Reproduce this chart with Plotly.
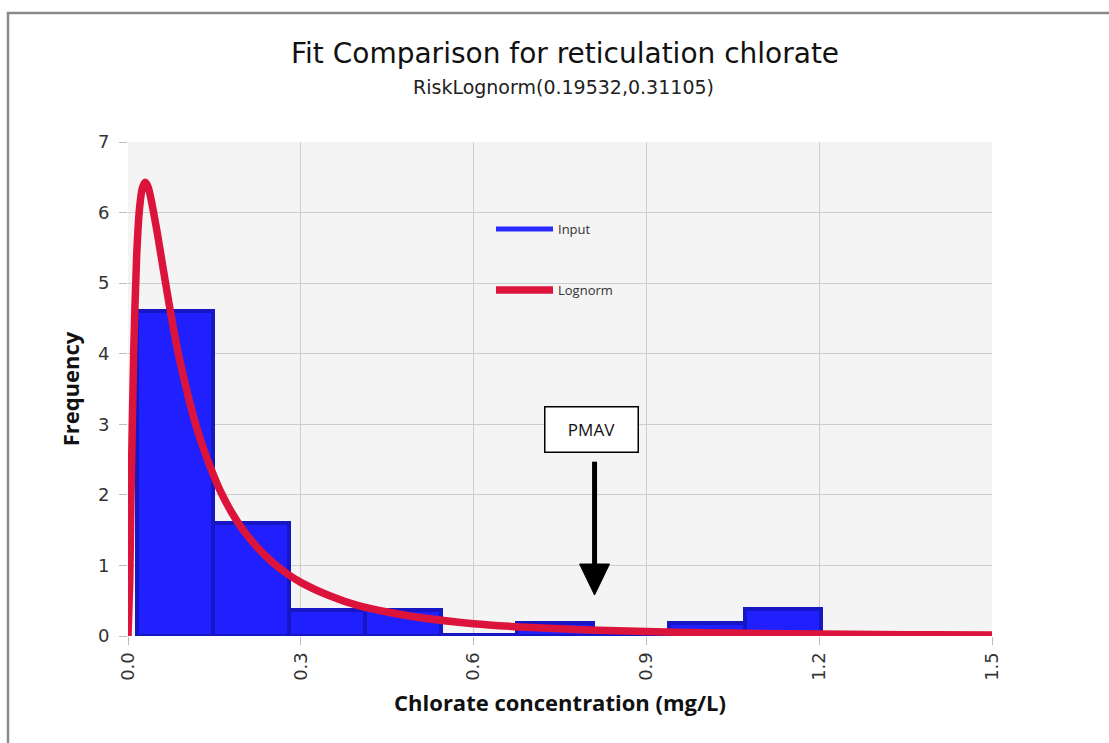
import plotly.graph_objects as go

# ---- data ----
bin_left = [0.0156, 0.1476, 0.2796, 0.4116, 0.5436, 0.6756, 0.8076, 0.9396, 1.0716]
bin_width = 0.132
input_freq = [4.60, 1.60, 0.37, 0.37, 0.02, 0.19, 0.00, 0.19, 0.38]

curve_x = [0.0, 0.003, 0.005, 0.01, 0.015, 0.02, 0.025, 0.03, 0.035, 0.04, 0.05, 0.06, 0.07,
           0.085, 0.1, 0.115, 0.13, 0.145, 0.16, 0.18, 0.2, 0.225, 0.25, 0.275, 0.3, 0.35,
           0.4, 0.45, 0.5, 0.6, 0.7, 0.8, 0.9, 1.0, 1.1, 1.2, 1.3, 1.4, 1.5]
curve_y = [0.0, 0.75, 1.86, 4.06, 5.38, 6.06, 6.35, 6.43, 6.36, 6.19, 5.75, 5.26, 4.77,
           4.10, 3.55, 3.07, 2.68, 2.35, 2.06, 1.75, 1.50, 1.25, 1.05, 0.89, 0.76, 0.57,
           0.43, 0.34, 0.27, 0.175, 0.12, 0.085, 0.062, 0.047, 0.036, 0.028, 0.022, 0.017, 0.014]

x_ticks = [0.0, 0.3, 0.6, 0.9, 1.2, 1.5]
x_tick_text = ["0.0", "0.3", "0.6", "0.9", "1.2", "1.5"]
y_ticks = [0, 1, 2, 3, 4, 5, 6, 7]

pmav_x = 0.81

title_text = "Fit Comparison for reticulation chlorate"
subtitle_text = "RiskLognorm(0.19532,0.31105)"

# ---- figure ----
W, H = 1109, 743
L, R, T, B = 128, 117, 142, 107
PW, PH = W - L - R, H - T - B


def px2paper_x(px):
    return (px - L) / PW


def px2paper_y(py):
    return (H - B - py) / PH


bar_centers = [b + bin_width / 2 for b in bin_left]

fig = go.Figure()
fig.add_trace(go.Bar(
    x=bar_centers, y=input_freq, width=bin_width,
    marker=dict(color="#2020ff", line=dict(color="#1616c4", width=4)),
    showlegend=False, hoverinfo="skip",
))
fig.add_trace(go.Scatter(
    x=curve_x, y=curve_y, mode="lines", line=dict(color="#dc143c", width=7.5, shape="spline", smoothing=0.6),
    name="Lognorm", legend="legend2",
))
fig.add_trace(go.Scatter(
    x=[None], y=[None], mode="lines", line=dict(color="#2b2bff", width=5),
    name="Input", legend="legend",
))

axis_font = dict(family="DejaVu Sans", size=18, color="#333333")
label_font = dict(family="Open Sans", size=22, color="#111111")
legend_font = dict(family="Open Sans", size=13, color="#333333")

fig.update_layout(
    width=W, height=H,
    margin=dict(l=L, r=R, t=T, b=B),
    paper_bgcolor="white", plot_bgcolor="#f4f4f4",
    bargap=0,
    xaxis=dict(range=[0, 1.5], tickvals=x_ticks, ticktext=x_tick_text, tickangle=-90,
               showgrid=True, gridcolor="#cdcdcd", gridwidth=1, zeroline=False, showline=False,
               ticks="outside", ticklen=8, tickcolor="#bbbbbb", tickfont=axis_font,
               title=dict(text="<b>Chlorate concentration (mg/L)</b>", font=label_font, standoff=15)),
    yaxis=dict(range=[0, 7], tickvals=y_ticks,
               showgrid=True, gridcolor="#cdcdcd", gridwidth=1, zeroline=False, showline=False,
               ticks="outside", ticklen=8, tickcolor="#bbbbbb", tickfont=axis_font,
               ticklabelstandoff=6,
               title=dict(text="<b>Frequency</b>", font=label_font, standoff=12)),
    legend=dict(x=px2paper_x(491), y=px2paper_y(229), xanchor="left", yanchor="middle",
                itemwidth=57, bgcolor="rgba(0,0,0,0)", font=legend_font),
    legend2=dict(x=px2paper_x(491), y=px2paper_y(290), xanchor="left", yanchor="middle",
                 itemwidth=57, bgcolor="rgba(0,0,0,0)", font=legend_font),
    showlegend=True,
)

fig.add_annotation(x=px2paper_x(565), y=px2paper_y(53), xref="paper", yref="paper",
                   text=title_text, showarrow=False, xanchor="center", yanchor="middle",
                   font=dict(family="DejaVu Sans", size=28, color="#111111"))
fig.add_annotation(x=px2paper_x(563), y=px2paper_y(87), xref="paper", yref="paper",
                   text=subtitle_text, showarrow=False, xanchor="center", yanchor="middle",
                   font=dict(family="DejaVu Sans", size=19, color="#222222"))

# PMAV label box
fig.add_annotation(x=pmav_x - 0.006, y=2.93, xref="x", yref="y", text="PMAV", showarrow=False,
                   width=92, height=44, borderpad=0, bordercolor="black", borderwidth=1.5,
                   bgcolor="white", font=dict(family="Open Sans", size=17, color="#111111"))
# PMAV arrow: shaft + head
fig.add_shape(type="line", x0=pmav_x, x1=pmav_x, y0=2.47, y1=1.0, xref="x", yref="y",
              line=dict(color="black", width=5))
fig.add_shape(type="path", xref="x", yref="y",
              path=f"M {pmav_x - 0.026} 1.02 L {pmav_x + 0.026} 1.02 L {pmav_x} 0.58 Z",
              fillcolor="black", line=dict(color="black", width=1))

# outer frame (top and left edges)
fig.add_shape(type="path", xref="paper", yref="paper",
              path=f"M {px2paper_x(8)} {px2paper_y(745)} L {px2paper_x(8)} {px2paper_y(13)} L {px2paper_x(1111)} {px2paper_y(13)}",
              line=dict(color="#8a8a8a", width=2.5))

fig.write_html("out.html")
